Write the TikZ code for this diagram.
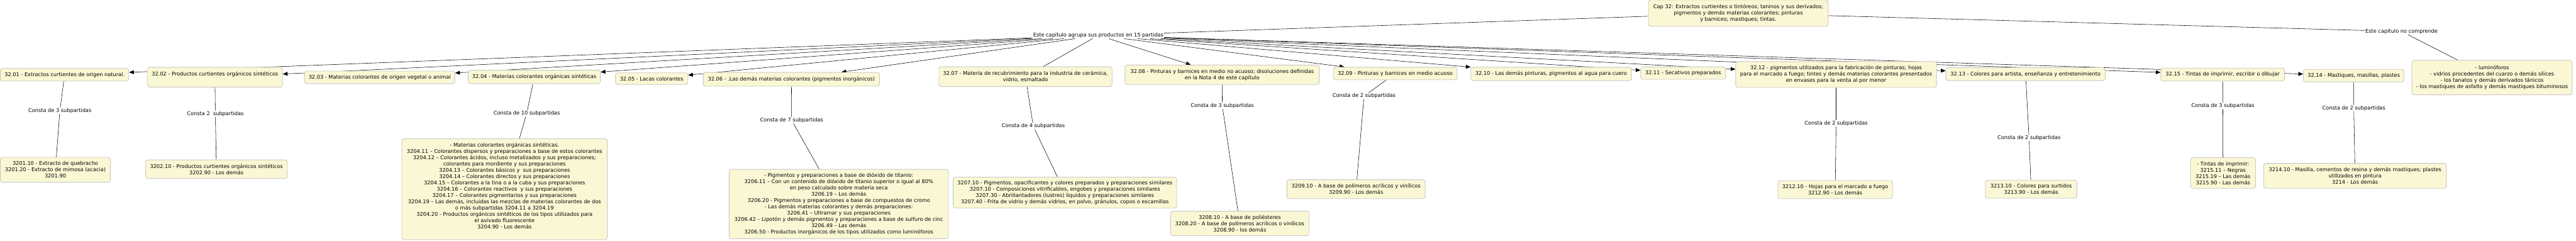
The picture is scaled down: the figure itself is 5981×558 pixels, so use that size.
\documentclass[tikz,border=0pt]{standalone}
\usepackage{fontspec}
\setmainfont{DejaVu Sans}
\usetikzlibrary{arrows.meta,backgrounds}
\definecolor{boxfill}{RGB}{250,248,212}
\definecolor{boxborder}{RGB}{200,200,200}
\newcommand{\cmf}{\fontsize{12}{14.6}\selectfont}
\tikzset{
  concept/.style={draw=boxborder, line width=1.3pt, fill=boxfill, rounded corners=5pt,
    align=center, inner sep=0pt, font=\cmf},
  linkw/.style={fill=white, inner sep=1.5pt, font=\cmf},
  conn/.style={draw=black, line width=0.8pt},
  arr/.style={conn, -{Triangle[length=11pt,width=9pt]}},
}
\begin{document}
\begin{tikzpicture}[x=1pt,y=-1pt]
\useasboundingbox (0,0) rectangle (5981,558);
% top
\node[concept, minimum width=417, minimum height=61] (cap) at (4036,30.5)
 {Cap 32: Extractos curtientes o tintóreos; taninos y sus derivados;\\pigmentos y demás materias colorantes; pinturas\\y barnices; mastiques; tintas.};
\node[linkw] (agr) at (2550,82) {Este capítulo agrupa sus productos en 15 partidas};
\node[linkw] (noc) at (5576,73) {Este capítulo no comprende};
\node[concept, minimum width=372, minimum height=80] (ex) at (5786,180)
 {- luminóforos\\- vidrios procedentes del cuarzo o demás sílices\\- los tanatos y demás derivados tánicos\\- los mastiques de asfalto y demás mastiques bituminosos};
% partidas
\node[concept, minimum width=298, minimum height=29] (n01) at (150,173.5) {32.01 - Extractos curtientes de origen natural.};
\node[concept, minimum width=314, minimum height=46] (n02) at (499,179) {32.02 - Productos curtientes orgánicos sintéticos\\\mbox{}};
\node[concept, minimum width=349, minimum height=29] (n03) at (881.5,179.5) {32.03 - Materias colorantes de origen vegetal o animal};
\node[concept, minimum width=307, minimum height=31] (n04) at (1240.5,178.5) {32.04 - Materias colorantes orgánicas sintéticas};
\node[concept, minimum width=168, minimum height=27] (n05) at (1513,182.5) {32.05 - Lacas colorantes};
\node[concept, minimum width=409, minimum height=32] (n06) at (1837.5,184) {32.06 - .Las demás materias colorantes (pigmentos inorgánicos)};
\node[concept, minimum width=402, minimum height=46] (n07) at (2381,178) {32.07 - Materia de recubrimiento para la industria de cerámica,\\vidrio, esmaltado};
\node[concept, minimum width=451, minimum height=45] (n08) at (2837.5,173.5) {32.08 - Pinturas y barnices en medio no acuoso; disoluciones definidas\\en la Nota 4 de este capítulo};
\node[concept, minimum width=287, minimum height=29] (n09) at (3239.5,170.5) {32.09 - Pinturas y barnices en medio acuoso};
\node[concept, minimum width=373, minimum height=31] (n10) at (3601.5,171.5) {32.10 - Las demás pinturas, pigmentos al agua para cuero};
\node[concept, minimum width=197, minimum height=29] (n11) at (3908,169.5) {32.11 - Secativos preparados};
\node[concept, minimum width=466, minimum height=60] (n12) at (4263,173) {32.12 - pigmentos utilizados para la fabricación de pinturas; hojas\\para el marcado a fuego; tintes y demás materias colorantes presentados\\en envases para la venta al por menor};
\node[concept, minimum width=370, minimum height=30] (n13) at (4703,172) {32.13 - Colores para artista, enseñanza y entretenimiento};
\node[concept, minimum width=287, minimum height=30] (n15) at (5160.5,173) {32.15 - Tintas de imprimir, escribir o dibujar};
\node[concept, minimum width=234, minimum height=29] (n14) at (5465,175.5) {32.14 - Mastiques, masillas, plastes};
% consta labels
\node[linkw] (c01) at (139,257) {Consta de 3 subpartidas};
\node[linkw] (c02) at (500,264) {Consta 2\ \ subpartidas};
\node[linkw] (c04) at (1223,263) {Consta de 10 subpartidas};
\node[linkw] (c06) at (1838,279) {Consta de 7 subpartidas};
\node[linkw] (c07) at (2399,293) {Consta de 4 subpartidas};
\node[linkw] (c08) at (2838,246) {Consta de 3 subpartidas};
\node[linkw] (c09) at (3167,223) {Consta de 2 subpartidas};
\node[linkw] (c12) at (4263,286) {Consta de 2 subpartidas};
\node[linkw] (c13) at (4711,320) {Consta de 2 subpartidas};
\node[linkw] (c15) at (5161,246) {Consta de 3 subpartidas};
\node[linkw] (c14) at (5465,251) {Consta de 2 subpartidas};
% leaves
\node[concept, minimum width=255, minimum height=58] (l01) at (128.5,394) {3201.10 - Extracto de quebracho\\3201.20 - Extracto de mimosa (acacia)\\3201.90};
\node[concept, minimum width=329, minimum height=43] (l02) at (502.5,392.5) {3202.10 - Productos curtientes orgánicos sintéticos\\3202.90 - Los demás};
\node[concept, minimum width=477, minimum height=234] (l04) at (1171.5,439) {- Materias colorantes orgánicas sintéticas.\\
3204.11 -- Colorantes dispersos y preparaciones a base de estos colorantes\\
3204.12 -- Colorantes ácidos, incluso metalizados y sus preparaciones;\\
colorantes para mordiente y sus preparaciones\\
3204.13 -- Colorantes básicos y\ \ sus preparaciones\\
3204.14 -- Colorantes directos y sus preparaciones\\
3204.15 -- Colorantes a la tina o a la cuba y sus preparaciones\\
3204.16 -- Colorantes reactivos\ \ y sus preparaciones\\
3204.17 -- Colorantes pigmentarios y sus preparaciones\\
3204.19 -- Las demás, incluidas las mezclas de materias colorantes de dos\\
o más subpartidas 3204.11 a 3204.19\\
3204.20 - Productos orgánicos sintéticos de los tipos utilizados para\\
el avivado fluorescente\\
3204.90 - Los demás\\ \mbox{}};
\node[concept, minimum width=509, minimum height=161] (l06) at (1947.5,473.5) {- Pigmentos y preparaciones a base de dióxido de titanio:\\
3206.11 -- Con un contenido de dióxido de titanio superior o igual al 80\%\\
en peso calculado sobre materia seca\\
3206.19 -- Los demás\\
3206.20 - Pigmentos y preparaciones a base de compuestos de cromo\\
- Las demás materias colorantes y demás preparaciones:\\
3206.41 -- Ultramar y sus preparaciones\\
3206.42 -- Lipotón y demás pigmentos y preparaciones a base de sulfuro de cinc\\
3206.49 -- Las demás\\
3206.50 - Productos inorgánicos de los tipos utilizados como luminóforos};
\node[concept, minimum width=519, minimum height=72] (l07) at (2472.5,447) {3207.10 - Pigmentos, opacificantes y colores preparados y preparaciones similares\\
3207.10 - Composiciones vitrificables, engobes y preparaciones similares\\
3207.30 - Abrillantadores (lustres) liquidos y preparaciones similares\\
3207.40 - Frita de vidrio y demás vidrios, en polvo, gránulos, copos o escamillas};
\node[concept, minimum width=321, minimum height=57] (l08) at (2878.5,518.5) {3208.10 - A base de poliésteres\\3208.20 - A base de polímeros acrilicos o vinílicos\\3208.90 - los demás};
\node[concept, minimum width=321, minimum height=44] (l09) at (3148.5,439) {3209.10 - A base de polímeros acrílicos y vinílicos\\3209.90 - Los demás};
\node[concept, minimum width=266, minimum height=42] (l12) at (4261,440) {3212.10 - Hojas para el marcado a fuego\\3212.90 - Los demás};
\node[concept, minimum width=212, minimum height=42] (l13) at (4716,439) {3213.10 - Colores para surtidos\\3213.90 - Los demás};
\node[concept, minimum width=151, minimum height=71] (l15) at (5161.5,401.5) {- Tintas de imprimir:\\3215.11 -- Negras\\3215.19 -- Las demás\\3215.90 - Las demás};
\node[concept, minimum width=424, minimum height=58] (l14) at (5468,408) {3214.10 - Masilla, cementos de resina y demás mastiques; plastes\\utilizados en pintura\\3214 - Los demás};
% connectors
\begin{scope}[on background layer]
\fill[white] (0,0) rectangle (5981,558);
\draw[conn] (cap) -- (agr);
\draw[conn] (cap) -- (noc);
\draw[conn] (noc) -- (ex);
\foreach \n in {n01,n02,n03,n04,n05,n06,n08,n09,n10,n11,n12,n13,n15,n14}
  \draw[arr] (agr) -- (\n);
\draw[conn] (agr) -- (n07);
\draw[conn] (n01) -- (c01) -- (l01);
\draw[conn] (n02) -- (c02) -- (l02);
\draw[conn] (n04) -- (c04) -- (l04);
\draw[conn] (n06) -- (c06) -- (l06);
\draw[conn] (n07) -- (c07) -- (l07);
\draw[conn] (n08) -- (c08) -- (l08);
\draw[conn] (n09) -- (c09) -- (l09);
\draw[conn] (n12) -- (c12) -- (l12);
\draw[conn] (n13) -- (c13) -- (l13);
\draw[conn] (n15) -- (c15) -- (l15);
\draw[conn] (n14) -- (c14) -- (l14);
\end{scope}
\end{tikzpicture}
\end{document}
